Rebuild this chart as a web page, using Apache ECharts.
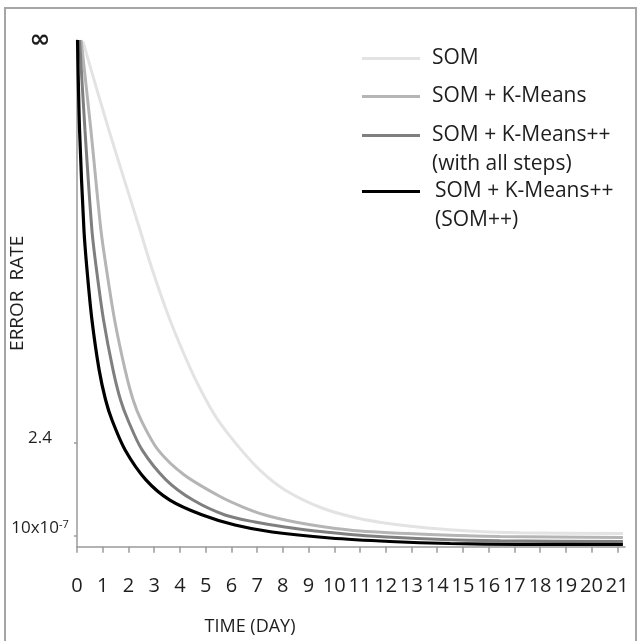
<!DOCTYPE html>
<html><head><meta charset="utf-8">
<script src="https://cdn.jsdelivr.net/npm/echarts@6/dist/echarts.min.js"></script>
<style>html,body{margin:0;padding:0;background:#fff}#c{width:639px;height:641px}</style>
</head><body><div id="c"></div>
<script>
// ---- data ----
const seriesNames = ['SOM', 'SOM + K-Means', 'SOM + K-Means++\n(with all steps)', 'SOM + K-Means++\n(SOM++)'];
const seriesColors = ['#e3e3e3', '#b5b5b5', '#7f7f7f', '#000000'];

const somX = [0.23, 1.24, 2.45, 2.93, 3.61, 4.43, 5.01, 5.48, 6.22, 7.11, 8.08, 9.52, 10.88, 12.24, 13.64, 15.27, 17.22, 21.22];
const somY = [99.7, 82.2, 62.5, 54.6, 44.8, 34.9, 29.0, 25.0, 20.1, 15.1, 11.2, 7.64, 5.66, 4.48, 3.69, 3.10, 2.74, 2.61];

const kmX = [0.16, 0.54, 0.93, 1.15, 1.46, 1.87, 2.18, 2.49, 3.15, 4.16, 5.56, 6.45, 7.31, 8.47, 9.64, 11.0, 13.72, 16.44, 21.22];
const kmY = [100, 82.2, 62.5, 54.6, 44.8, 34.9, 29.0, 25.0, 19.1, 14.2, 9.9, 7.83, 6.26, 4.87, 3.89, 3.10, 2.41, 2.01, 1.82];

const kmppX = [0.10, 0.31, 0.58, 0.76, 1.03, 1.40, 1.69, 1.98, 2.53, 3.46, 4.51, 5.75, 6.92, 8.08, 9.25, 10.42, 11.39, 13.72, 16.44, 21.22];
const kmppY = [100, 82.2, 62.5, 54.6, 44.8, 34.9, 29.0, 25.0, 19.1, 13.2, 9.2, 6.26, 4.87, 3.89, 3.10, 2.51, 2.11, 1.52, 1.16, 1.03];

const sompX = [0.02, 0.10, 0.27, 0.39, 0.58, 0.86, 1.11, 1.36, 1.87, 2.68, 3.61, 4.85, 6.14, 7.58, 9.83, 12.16, 14.5, 17.2, 21.22];
const sompY = [100, 82.2, 62.5, 54.6, 44.8, 34.9, 29.0, 25.0, 19.1, 13.2, 9.2, 6.3, 4.28, 2.90, 1.72, 1.03, 0.63, 0.47, 0.43];

const xTicks = [0,1,2,3,4,5,6,7,8,9,10,11,12,13,14,15,16,17,18,19,20,21];
const yTickLabels = ['10x10-7', '2.4', '∞'];
const yLabelPos = [3.7, 21.5, 100];
const yTickPos = [2.1, 20.5];

// ---- chart ----
const FONT = 'Open Sans';
const TXT = '#1e1e1e';
const pairs = (xs, ys) => xs.map((x, i) => [x, ys[i]]);
const allData = [pairs(somX, somY), pairs(kmX, kmY), pairs(kmppX, kmppY), pairs(sompX, sompY)];

const legendTops = [44, 82, 92, 148];
const legendPadLeft = [7, 7, 7, 10];

const chart = echarts.init(document.getElementById('c'), null, {renderer: 'canvas'});
chart.setOption({
  animation: false,
  backgroundColor: '#fff',
  textStyle: {fontFamily: FONT},
  graphic: [{
    type: 'rect', silent: true, z: -1,
    shape: {x: 5, y: 8, width: 631, height: 700},
    style: {fill: 'none', stroke: '#a6a6a6', lineWidth: 2}
  }],
  grid: {left: 77, right: 14, top: 40, bottom: 94.3, containLabel: false, outerBoundsMode: 'none'},
  legend: seriesNames.map((n, i) => ({
    data: [n], orient: 'vertical', left: 362, top: legendTops[i], padding: 0,
    icon: 'rect', itemWidth: 58, itemHeight: 3, selectedMode: false,
    formatter: function (name) { return name.indexOf('\n') > 0 ? ' \n' + name : name; },
    textStyle: {fontFamily: FONT, fontSize: 21, color: TXT, lineHeight: 29, padding: [0, 0, 0, legendPadLeft[i]]}
  })),
  xAxis: {
    type: 'value', min: 0, max: 21.3,
    name: 'TIME (DAY)', nameLocation: 'middle', nameGap: 71, nameMoveOverlap: false,
    nameTextStyle: {fontFamily: FONT, fontSize: 18, color: TXT, padding: [0, 202, 0, 0]},
    axisLine: {show: true, lineStyle: {color: '#9a9a9a', width: 1.5}},
    axisTick: {show: true, length: 6, customValues: xTicks, lineStyle: {color: '#9a9a9a', width: 1.5}},
    axisLabel: {customValues: xTicks, margin: 30, fontFamily: FONT, fontSize: 20, color: TXT},
    splitLine: {show: false}
  },
  yAxis: {
    type: 'value', min: 0, max: 100,
    name: 'ERROR  RATE', nameLocation: 'middle', nameRotate: 90, nameGap: 50, nameMoveOverlap: false,
    nameTextStyle: {fontFamily: FONT, fontSize: 19, color: TXT},
    axisLine: {show: true, lineStyle: {color: '#9a9a9a', width: 1.5}},
    axisTick: {show: true, length: 3, customValues: yTickPos, lineStyle: {color: '#9a9a9a', width: 1.5}},
    axisLabel: {
      customValues: yLabelPos, margin: 37, align: 'center', fontFamily: FONT, fontSize: 17, color: TXT,
      formatter: function (v) {
        const i = yLabelPos.indexOf(v);
        const t = i >= 0 ? yTickLabels[i] : '';
        if (t === '∞') return '{inf|∞}';
        if (t.indexOf('-7') > 0) return t.replace('-7', '{sup|-7}');
        return t;
      },
      rich: {
        inf: {fontFamily: 'DejaVu Sans', fontSize: 25, fontWeight: 'bold', color: TXT},
        sup: {fontFamily: FONT, fontSize: 11, color: TXT, verticalAlign: 'top', padding: [0, 0, 6, 0]}
      }
    },
    splitLine: {show: false}
  },
  series: allData.map((d, i) => ({
    name: seriesNames[i], type: 'line', data: d,
    smooth: 0.3, symbol: 'none', showSymbol: false,
    itemStyle: {color: seriesColors[i]},
    lineStyle: {color: seriesColors[i], width: i === 3 ? 3.2 : 3}
  }))
});
</script></body></html>
